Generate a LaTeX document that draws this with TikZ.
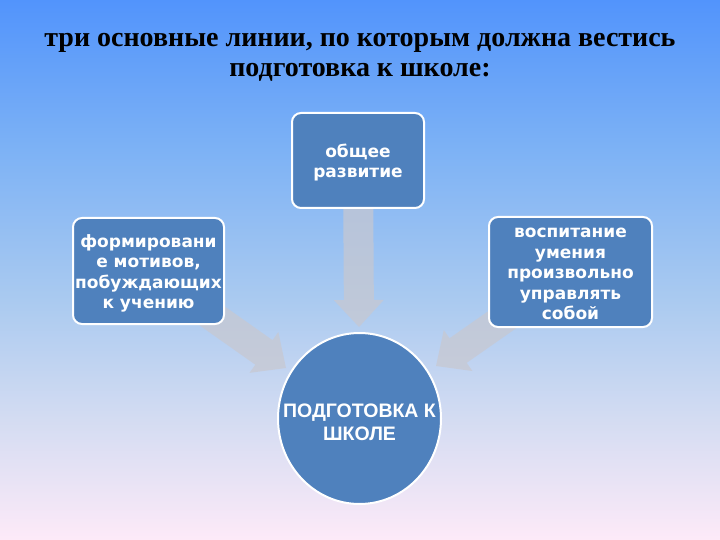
\documentclass[tikz,border=0pt]{standalone}
\usepackage{fontspec}
\setmainfont{Liberation Serif}
\newfontfamily\boxfont{DejaVu Sans}
\newfontfamily\circfont{Liberation Sans}
\usetikzlibrary{calc,shapes.geometric}
\definecolor{bgtop}{RGB}{82,148,252}
\definecolor{bgupper}{RGB}{125,178,245}
\definecolor{bgmid}{RGB}{170,202,240}
\definecolor{bglower}{RGB}{212,220,242}
\definecolor{bgbottom}{RGB}{253,234,248}
\definecolor{boxblue}{RGB}{79,129,189}
\definecolor{arrowcol}{RGB}{200,200,208}
\pgfdeclareverticalshading{slidebg}{100bp}{color(0bp)=(bgbottom); color(25bp)=(bgbottom); color(36.1bp)=(bglower); color(47.2bp)=(bgmid); color(61.1bp)=(bgupper); color(75bp)=(bgtop); color(100bp)=(bgtop)}
\pgfdeclarelayer{bglayer}
\pgfdeclarelayer{arrlayer}
\pgfsetlayers{bglayer,arrlayer,main}
\newcommand\blockarrow[2]{%
  \fill[arrowfill]
    ($(#1)!15pt!90:(#2)$) --
    ($(#2)!27pt!(#1)!15pt!90:(#2)$) --
    ($(#2)!27pt!(#1)!25pt!90:(#2)$) --
    (#2) --
    ($(#2)!27pt!(#1)!25pt!-90:(#2)$) --
    ($(#2)!27pt!(#1)!15pt!-90:(#2)$) --
    ($(#1)!15pt!-90:(#2)$) -- cycle;}
\begin{document}
\begin{tikzpicture}[x=1pt,y=-1pt,
  titletext/.style={font=\bfseries\fontsize{28}{30}\selectfont, text=black, inner sep=0pt, anchor=base},
  linebox/.style={draw=white, line width=2pt, fill=boxblue, rounded corners=9pt,
     text=white, align=center, inner sep=0pt,
     font=\boxfont\bfseries\fontsize{17}{20.5}\selectfont},
  goalshape/.style={ellipse, draw=white, line width=2pt, fill=boxblue, inner sep=0pt},
  goaltext/.style={text=white, align=center, inner sep=0pt,
     font=\circfont\bfseries\fontsize{19.5}{23}\selectfont},
  arrowfill/.style={fill=arrowcol, fill opacity=0.7}]
\useasboundingbox (0,0) rectangle (720,540);
\begin{pgfonlayer}{bglayer}
  \shade[shading=slidebg] (0,0) rectangle (720,540);
\end{pgfonlayer}

\node[titletext] (title1) at (360,47) {три основные линии, по которым должна вестись};
\node[titletext] (title2) at (360,77) {подготовка к школе:};

\node[linebox, minimum width=132pt, minimum height=95pt] (general) at (358,160.5) {\rule{0pt}{18pt}общее\\развитие};
\node[linebox, minimum width=151pt, minimum height=106pt] (motives) at (148.5,271) {\rule{0pt}{18pt}формировани\\е мотивов,\\побуждающих\\к учению};
\node[linebox, minimum width=163pt, minimum height=110pt] (selfctl) at (570.5,272) {\rule{0pt}{13.5pt}воспитание\\умения\\произвольно\\управлять\\собой};

\node[goalshape, minimum width=163pt, minimum height=171pt] (goal) at (359.5,418.5) {};
\node[goaltext] (goallabel) at (359.5,422) {ПОДГОТОВКА К\\ШКОЛЕ};

\coordinate (tipTop) at (359,327);
\coordinate (tipLeft) at (286,368);
\coordinate (tipRight) at (436,366);

\begin{pgfonlayer}{arrlayer}
  \blockarrow{general.center}{tipTop}
  \blockarrow{motives.center}{tipLeft}
  \blockarrow{selfctl.center}{tipRight}
\end{pgfonlayer}
\end{tikzpicture}
\end{document}
